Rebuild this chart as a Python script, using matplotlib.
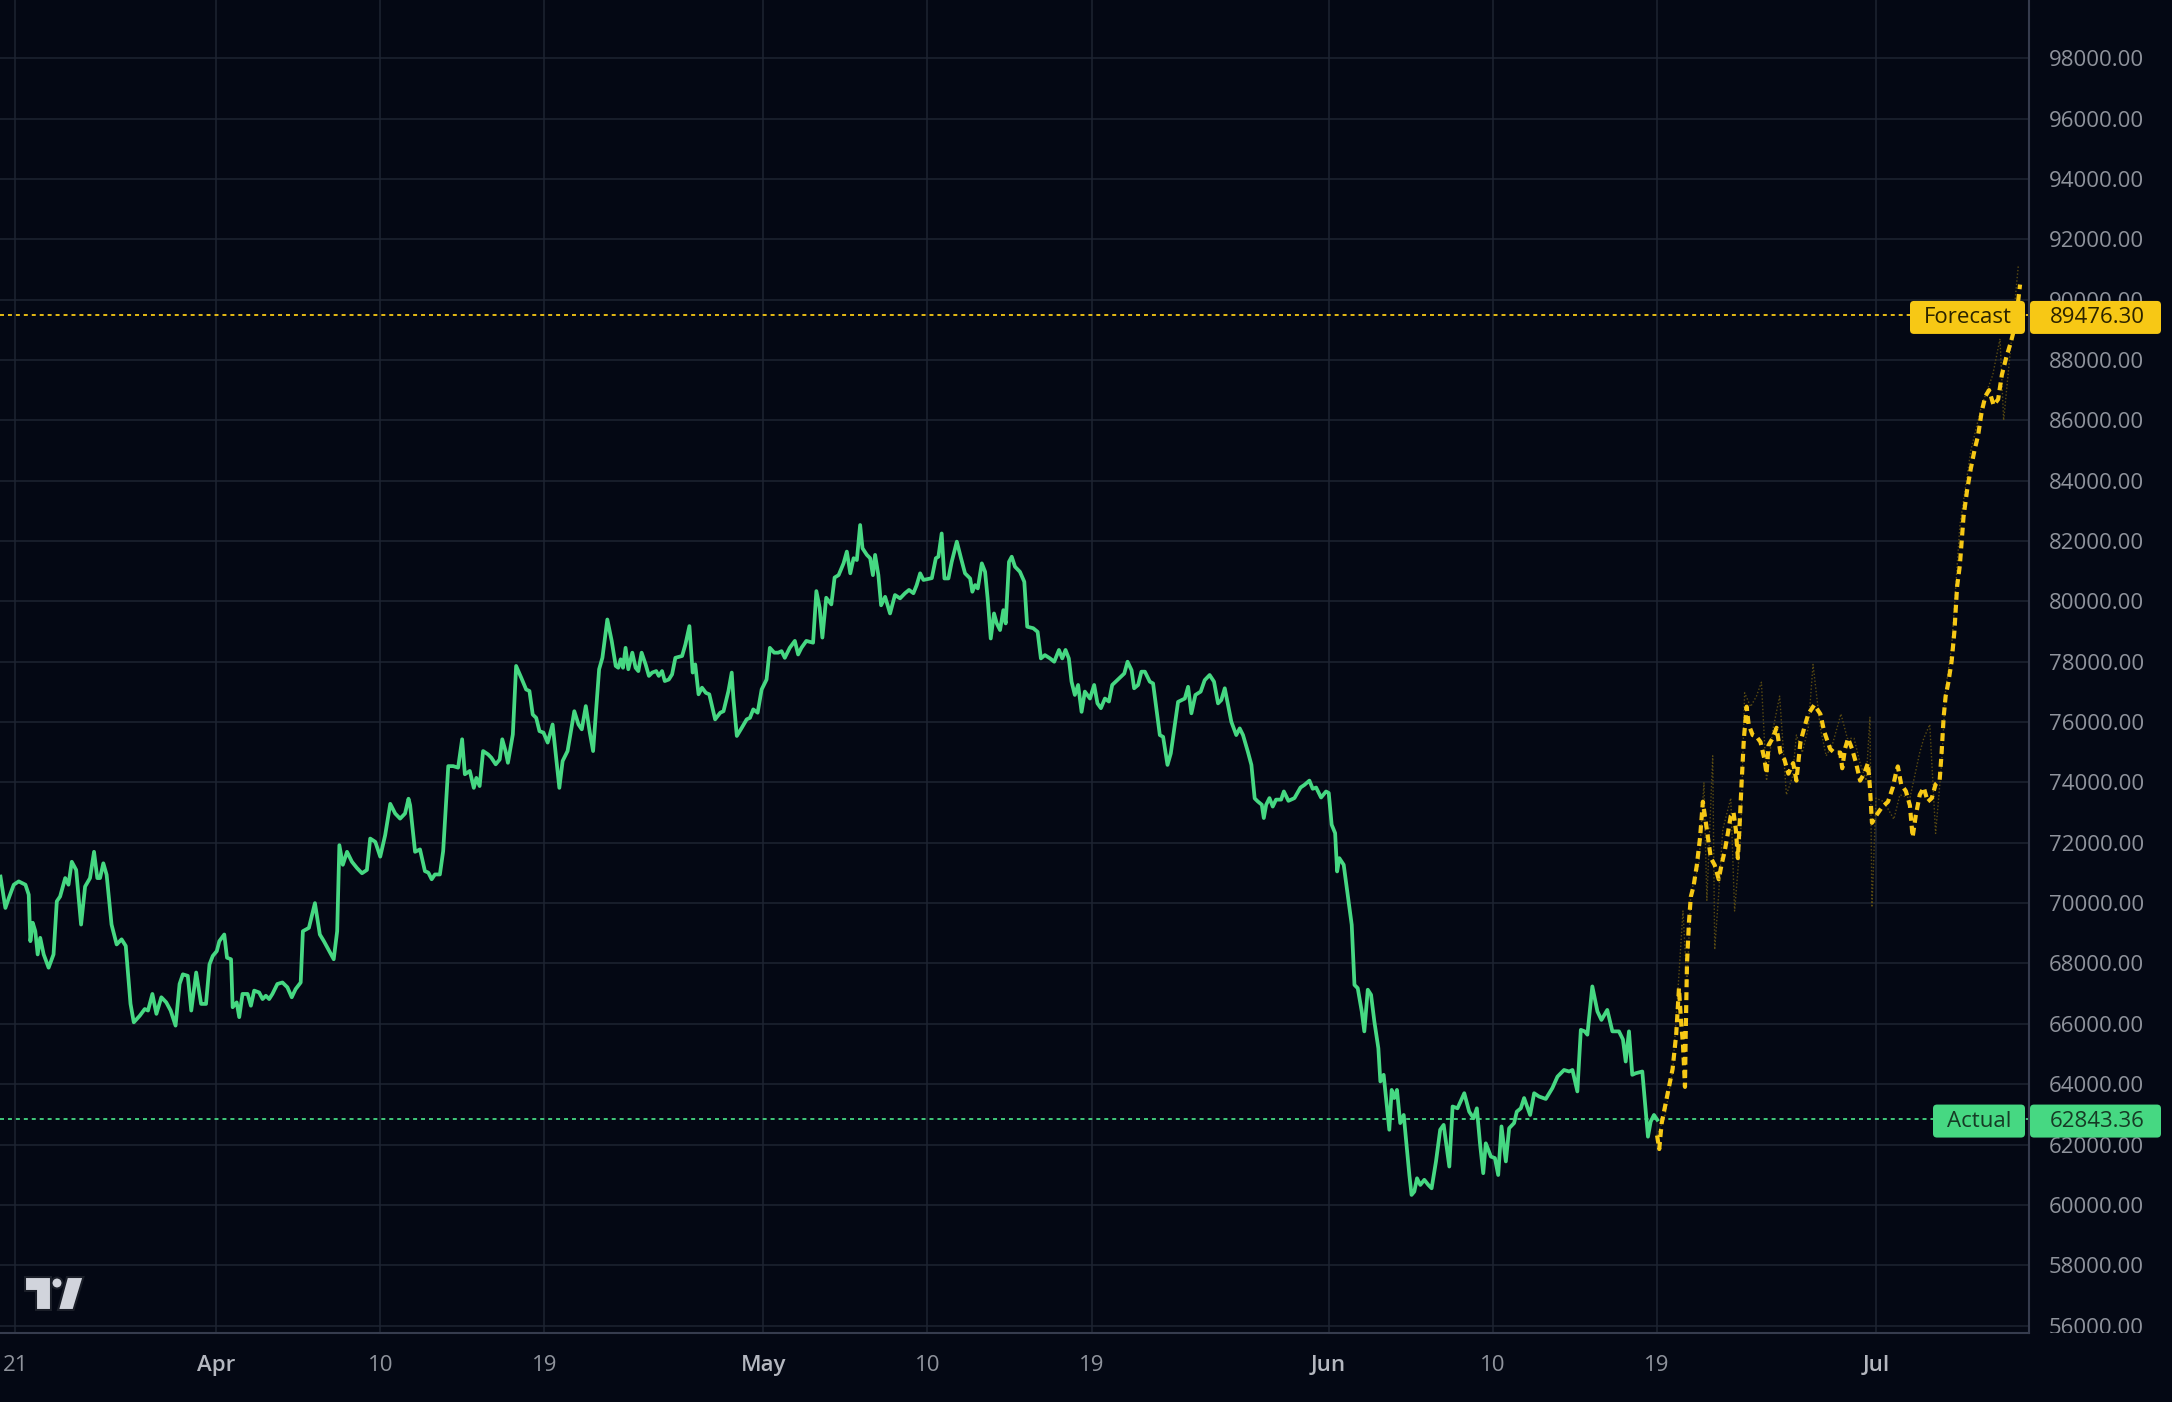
import numpy as np
import pandas as pd
import matplotlib
matplotlib.use("Agg")
import matplotlib.pyplot as plt
import matplotlib.dates as mdates
from matplotlib.patches import FancyBboxPatch, Polygon, Circle
from matplotlib.transforms import IdentityTransform, Bbox, TransformedBbox

plt.rcParams['font.family'] = ['Open Sans', 'DejaVu Sans']

# colours
bg_color = '#040814'
grid_color = '#1e2432'
spine_color = '#363c4e'
green = '#46d882'
yellow = '#f7c815'
faint_yellow = '#5a4b12'
label_gray = '#8f939c'

start = pd.Timestamp("2024-04-01")

# actual price (days after Apr 1, price)
actual_days = [
    -11.82, -11.55, -11.36, -11.09, -10.82, -10.45, -10.27, -10.18, -10.05, -9.91,
    -9.78, -9.64, -9.45, -9.18, -8.91, -8.73, -8.55, -8.27, -8.09, -7.91,
    -7.67, -7.40, -7.18, -6.91, -6.69, -6.51, -6.36, -6.18, -6.00, -5.73,
    -5.45, -5.18, -4.95, -4.69, -4.51, -4.18, -3.91, -3.73, -3.49, -3.27,
    -3.00, -2.73, -2.49, -2.22, -2.00, -1.82, -1.55, -1.36, -1.09, -0.82,
    -0.55, -0.36, -0.18, 0.04, 0.18, 0.45, 0.60, 0.82, 0.91, 1.13,
    1.27, 1.45, 1.73, 1.91, 2.09, 2.36, 2.55, 2.73, 2.91, 3.09,
    3.36, 3.64, 3.91, 4.15, 4.36, 4.64, 4.76, 5.09, 5.42, 5.69,
    5.91, 6.45, 6.64, 6.76, 6.95, 7.18, 7.45, 7.73, 8.00, 8.27,
    8.45, 8.73, 9.00, 9.27, 9.55, 9.82, 10.09, 10.36, 10.55, 10.64,
    10.91, 11.18, 11.45, 11.64, 11.82, 12.00, 12.27, 12.45, 12.73, 13.00,
    13.27, 13.49, 13.64, 13.91, 14.13, 14.27, 14.45, 14.64, 14.91, 15.09,
    15.33, 15.55, 15.69, 15.87, 16.00, 16.27, 16.45, 16.73, 17.00, 17.18,
    17.36, 17.55, 17.73, 17.95, 18.18, 18.45, 18.82, 19.00, 19.27, 19.64,
    19.87, 20.05, 20.27, 20.49, 20.67, 21.00, 21.18, 21.45, 21.69, 21.91,
    22.05, 22.18, 22.31, 22.45, 22.60, 22.82, 23.00, 23.15, 23.33, 23.55,
    23.73, 23.91, 24.13, 24.27, 24.45, 24.60, 24.82, 25.00, 25.18, 25.55,
    25.73, 25.95, 26.13, 26.27, 26.45, 26.64, 26.85, 27.04, 27.36, 27.64,
    27.82, 28.09, 28.27, 28.36, 28.55, 28.82, 29.09, 29.27, 29.45, 29.69,
    29.91, 30.18, 30.36, 30.60, 30.82, 31.00, 31.18, 31.45, 31.73, 31.91,
    32.09, 32.36, 32.73, 32.91, 33.09, 33.24, 33.45, 33.73, 33.91, 34.13,
    34.40, 34.58, 34.77, 34.95, 35.13, 35.31, 35.44, 35.68, 35.86, 36.01,
    36.13, 36.31, 36.46, 36.68, 36.95, 37.22, 37.50, 37.77, 37.99, 38.23,
    38.41, 38.60, 38.78, 39.24, 39.46, 39.60, 39.78, 39.93, 40.15, 40.33,
    40.61, 40.84, 41.06, 41.34, 41.46, 41.61, 41.76, 41.98, 42.16, 42.30,
    42.47, 42.65, 42.80, 42.98, 43.16, 43.29, 43.47, 43.62, 43.80, 44.07,
    44.31, 44.47, 44.80, 45.04, 45.22, 45.44, 45.72, 45.95, 46.21, 46.39,
    46.57, 46.75, 46.90, 47.08, 47.26, 47.45, 47.63, 47.91, 48.14, 48.32,
    48.51, 48.73, 48.95, 49.13, 49.55, 49.79, 49.97, 50.19, 50.33, 50.55,
    50.73, 50.92, 51.19, 51.37, 51.74, 51.92, 52.16, 52.34, 52.74, 53.11,
    53.29, 53.47, 53.69, 53.98, 54.20, 54.47, 54.71, 54.93, 55.11, 55.30,
    55.48, 55.66, 55.93, 56.12, 56.30, 56.57, 56.76, 56.94, 57.11, 57.33,
    57.44, 57.57, 57.75, 57.93, 58.11, 58.39, 58.54, 58.79, 59.12, 59.45,
    59.67, 59.94, 60.12, 60.31, 60.58, 60.85, 61.00, 61.16, 61.35, 61.46,
    61.58, 61.82, 62.04, 62.26, 62.41, 62.59, 62.81, 62.95, 63.14, 63.32,
    63.50, 63.72, 63.83, 64.01, 64.14, 64.32, 64.45, 64.59, 64.74, 64.92,
    65.11, 65.23, 65.42, 65.54, 65.69, 65.84, 66.02, 66.24, 66.46, 66.64,
    66.88, 67.11, 67.30, 67.61, 67.79, 68.06, 68.43, 68.70, 68.94, 69.12,
    69.30, 69.47, 69.61, 69.89, 70.11, 70.29, 70.47, 70.71, 70.89, 71.16,
    71.31, 71.53, 71.71, 72.04, 72.26, 72.53, 72.90, 73.26, 73.54, 73.90,
    74.18, 74.36, 74.63, 74.82, 75.03, 75.18, 75.45, 75.73, 75.95, 76.27,
    76.55, 76.91, 77.13, 77.28, 77.46, 77.64, 77.82, 78.19, 78.50, 78.65,
    78.83, 79.01,
]
actual_price = [
    70880, 69840, 70170, 70610, 70720, 70610, 70280, 68740, 69350, 69070,
    68300, 68850, 68300, 67860, 68300, 70060, 70220, 70830, 70610, 71370,
    71100, 69290, 70550, 70830, 71700, 70830, 70830, 71320, 70940, 69290,
    68630, 68800, 68580, 66660, 66050, 66270, 66490, 66440, 66990, 66330,
    66880, 66710, 66440, 65940, 67320, 67640, 67590, 66440, 67700, 66660,
    66660, 67970, 68250, 68410, 68740, 68960, 68190, 68140, 66550, 66710,
    66220, 66990, 66990, 66600, 67100, 67040, 66820, 66930, 66820, 66990,
    67320, 67370, 67210, 66880, 67150, 67370, 69070, 69180, 70000, 68960,
    68740, 68140, 69070, 71920, 71270, 71700, 71370, 71160, 70990, 71100,
    72140, 72030, 71540, 72250, 73290, 72970, 72800, 72970, 73460, 73240,
    71700, 71780, 71060, 71010, 70790, 70950, 70950, 71720, 74540, 74540,
    74490, 75430, 74270, 74380, 73820, 74150, 73880, 75040, 74930, 74820,
    74600, 74760, 75430, 75040, 74650, 75590, 77860, 77470, 77080, 77030,
    76250, 76140, 75700, 75650, 75320, 75920, 73820, 74710, 75040, 76360,
    75920, 75760, 76530, 75650, 75040, 77750, 78130, 79400, 78690, 77860,
    77800, 78080, 77800, 78460, 77750, 78300, 77800, 77690, 78300, 77910,
    77530, 77640, 77690, 77530, 77690, 77360, 77410, 77580, 78130, 78190,
    78570, 79180, 77640, 77910, 76920, 77140, 76970, 76920, 76090, 76310,
    76360, 77030, 77640, 76810, 75540, 75810, 76090, 76140, 76420, 76310,
    77080, 77410, 78460, 78300, 78300, 78350, 78130, 78460, 78690, 78240,
    78460, 78690, 78630, 80340, 79790, 78800, 80120, 79900, 80790, 80870,
    81260, 81650, 80930, 81430, 81370, 82530, 81760, 81540, 81430, 80870,
    81540, 80870, 79870, 80150, 79600, 80210, 80100, 80270, 80380, 80270,
    80540, 80930, 80710, 80770, 81430, 81480, 82250, 80760, 80760, 81310,
    81980, 81430, 80930, 80760, 80320, 80540, 80430, 81260, 80980, 80100,
    78770, 79600, 79270, 79050, 79710, 79270, 81310, 81480, 81150, 80980,
    80650, 79160, 79110, 78990, 78110, 78220, 78110, 78000, 78390, 78110,
    78390, 78110, 77340, 76900, 77230, 76340, 77010, 76780, 77230, 76620,
    76460, 76780, 76680, 77230, 77470, 77610, 78000, 77720, 77120, 77230,
    77670, 77670, 77340, 77280, 75570, 75510, 74580, 74960, 76670, 76780,
    77170, 76290, 76900, 77010, 77390, 77560, 77340, 76620, 76730, 77120,
    76560, 76010, 75570, 75790, 75570, 75010, 74580, 73470, 73370, 73260,
    72820, 73260, 73480, 73200, 73430, 73430, 73700, 73390, 73480, 73830,
    73920, 74060, 73790, 73830, 73500, 73700, 73650, 72600, 72320, 71050,
    71490, 71270, 70280, 69280, 67290, 67180, 66410, 65750, 67130, 66960,
    66080, 65190, 64090, 64310, 63540, 62490, 63810, 63540, 63810, 62710,
    62980, 62210, 60990, 60330, 60440, 60880, 60660, 60830, 60660, 60550,
    61440, 62490, 62650, 61270, 63260, 63200, 63700, 63090, 62870, 63200,
    61990, 61050, 62040, 61600, 61550, 60990, 62600, 61440, 62540, 62710,
    63090, 63200, 63540, 62980, 63700, 63590, 63510, 63870, 64250, 64470,
    64420, 64470, 63760, 65800, 65750, 65640, 67240, 66410, 66130, 66460,
    65750, 65750, 65480, 64750, 65750, 64310, 64360, 64420, 62260, 62760,
    62980, 62820,
]

# forecast (thick dotted yellow)
forecast_days = [
    79.00, 79.12, 79.25, 79.45, 79.65, 79.85, 80.05, 80.20, 80.31, 80.42,
    80.53, 80.57, 80.64, 80.75, 80.85, 81.00, 81.18, 81.36, 81.51, 81.73,
    81.95, 82.16, 82.38, 82.53, 82.71, 82.88, 83.04, 83.19, 83.32, 83.43,
    83.54, 83.63, 83.76, 83.91, 84.02, 84.24, 84.45, 84.67, 84.89, 85.00,
    85.11, 85.33, 85.55, 85.76, 85.98, 86.20, 86.46, 86.64, 86.86, 87.07,
    87.29, 87.62, 87.95, 88.16, 88.49, 88.71, 89.04, 89.15, 89.30, 89.47,
    89.69, 89.91, 90.13, 90.35, 90.56, 90.67, 90.78, 91.00, 91.33, 91.66,
    91.92, 92.09, 92.20, 92.38, 92.64, 92.86, 93.01, 93.18, 93.40, 93.62,
    93.84, 94.06, 94.27, 94.49, 94.60, 94.71, 94.82, 94.97, 95.15, 95.30,
    95.45, 95.60, 95.80, 96.00, 96.20, 96.40, 96.60, 96.80, 97.00, 97.20,
    97.45, 97.70, 97.90, 98.15, 98.40, 98.65, 98.90,
]
forecast_price = [
    62300, 61850, 62700, 63300, 63900, 64500, 65660, 67180, 66130, 65310,
    63910, 65660, 68000, 69390, 70210, 70560, 71260, 72190, 73360, 72430,
    71490, 71260, 70790, 71260, 71730, 72310, 72890, 73010, 72430, 71490,
    72780, 73940, 75460, 76510, 75920, 75570, 75520, 75340, 74760, 74290,
    75230, 75460, 75810, 74990, 74760, 74290, 74640, 74060, 75340, 75810,
    76270, 76570, 76270, 75690, 75110, 74990, 74990, 74470, 75110, 75460,
    75110, 74640, 74060, 74290, 74640, 73830, 72660, 72890, 73180, 73360,
    73830, 74290, 74530, 73940, 73710, 73240, 72190, 72890, 73590, 73830,
    73360, 73480, 73940, 74060, 74990, 76160, 76860, 77320, 78020, 79000,
    80500, 81200, 82800, 83700, 84400, 85000, 85500, 86300, 86800, 87000,
    86500, 86700, 87500, 88100, 88600, 89200, 90500,
]

# faint secondary forecast path
band_days = [
    79.00, 79.44, 79.87, 80.42, 80.64, 80.85, 81.29, 81.57, 81.73, 82.05,
    82.16, 82.38, 82.60, 83.04, 83.25, 83.58, 83.80, 84.13, 84.45, 84.72,
    85.00, 85.33, 85.72, 86.09, 86.42, 86.64, 86.96, 87.29, 87.55, 87.95,
    88.27, 88.60, 89.08, 89.43, 89.80, 90.13, 90.46, 90.67, 90.78, 91.00,
    91.44, 91.98, 92.31, 92.86, 93.40, 93.62, 93.95, 94.27, 94.60, 94.82,
    95.15, 95.60, 96.20, 96.80, 97.40, 97.80, 98.00, 98.40, 98.80,
]
band_price = [
    62300, 62980, 64500, 69740, 67290, 70330, 71260, 74000, 70090, 74880,
    68460, 70330, 72430, 73480, 69740, 72190, 76970, 76510, 76860, 77320,
    74060, 75690, 76860, 73590, 74180, 75570, 74990, 75810, 77910, 75810,
    74880, 75230, 76270, 75460, 75460, 74640, 74060, 76160, 69860, 73480,
    73360, 72780, 73590, 73480, 74990, 75460, 75920, 72310, 74640, 77090,
    78490, 82500, 85000, 86500, 87500, 88700, 86000, 88500, 91100,
]

forecast_last = 89476.30
actual_last = 62843.36

tick_days = [-11, 0, 9, 18, 30, 39, 48, 61, 70, 79, 91]
tick_labels = ["21", "Apr", "10", "19", "May", "10", "19", "Jun", "10", "19", "Jul"]
month_labels = ["Apr", "May", "Jun", "Jul"]
price_ticks = np.arange(56000, 98001, 2000)


def to_time(days):
    return start + pd.to_timedelta(np.array(days), unit="D")


W, H = 2172, 1402
fig = plt.figure(figsize=(W / 100, H / 100), dpi=100, facecolor=bg_color)
ax_bottom = 69.5 / H
ax_right = 2029 / W
ax = fig.add_axes([0, ax_bottom, ax_right, 1 - ax_bottom])
ax.set_facecolor(bg_color)

ax.plot(to_time(band_days), band_price, color=faint_yellow, lw=1.0,
        linestyle=(0, (1, 1.5)), zorder=2)
ax.plot(to_time(actual_days), actual_price, color=green, lw=2.7,
        solid_joinstyle='round', zorder=3)
ax.plot(to_time(forecast_days), forecast_price, color=yellow, lw=3.0,
        linestyle=(0, (1.9, 1.2)), zorder=4)

ax.axhline(forecast_last, color=yellow, lw=1.3, linestyle=(0, (2.2, 2.2)), zorder=2.5)
ax.axhline(actual_last, color=green, lw=1.3, linestyle=(0, (2.2, 2.2)), zorder=2.5)

ax.set_xlim(start + pd.Timedelta(days=-11.845), start + pd.Timedelta(days=99.39))
ax.set_ylim(55770, 99930)

ax.set_xticks(to_time(tick_days))
ax.set_xticklabels(tick_labels)
ax.set_yticks(price_ticks)
ax.set_yticklabels([f"{p:.2f}" for p in price_ticks])
ax.yaxis.tick_right()

ax.grid(True, color=grid_color, lw=1.1)
ax.set_axisbelow(True)

ax.tick_params(axis='x', length=0, pad=16, labelsize=16, colors=label_gray)
ax.tick_params(axis='y', length=0, pad=14.4, labelsize=16, colors=label_gray)
for lbl in ax.get_xticklabels():
    if lbl.get_text() in month_labels:
        lbl.set_fontweight('semibold')
        lbl.set_color('#b4b7bf')

for s in ['top', 'left']:
    ax.spines[s].set_visible(False)
for s in ['right', 'bottom']:
    ax.spines[s].set_color(spine_color)
    ax.spines[s].set_linewidth(1.5)

# keep the price labels inside the chart height
clip = TransformedBbox(Bbox.from_extents(0, 69.5, W, H), IdentityTransform())
for t in ax.yaxis.get_major_ticks():
    t.label2.set_clip_box(clip)
    t.label2.set_clip_on(True)

# price tags on the scale
px = IdentityTransform()
x_ref = mdates.date2num(start)


def price_tag(value, name, color, text_color, left):
    yp = ax.transData.transform((x_ref, value))[1] - 2
    h = 33
    name_box = FancyBboxPatch((left, yp - h / 2), 2025 - left, h,
                              boxstyle="round,pad=0,rounding_size=4",
                              transform=px, fc=color, ec='none', zorder=5)
    val_box = FancyBboxPatch((2030, yp - h / 2), 131, h,
                             boxstyle="round,pad=0,rounding_size=4",
                             transform=px, fc=color, ec='none', zorder=5)
    fig.add_artist(name_box)
    fig.add_artist(val_box)
    fig.text((left + 2025) / 2, yp, name, transform=px, ha='center', va='center',
             fontsize=16, color=text_color, zorder=6)
    fig.text(2097, yp, f"{value:.2f}", transform=px, ha='center', va='center',
             fontsize=16, color=text_color, zorder=6)


price_tag(forecast_last, "Forecast", yellow, '#2b2300', 1910)
price_tag(actual_last, "Actual", green, '#163a25', 1933)

# tradingview logo
logo_color = '#d1d4dc'
fig.add_artist(Polygon([(24.5, 125), (51, 125), (51, 92), (36, 92), (36, 111), (24.5, 111)],
                       closed=True, transform=px, fc=logo_color, ec='#1a1e28', lw=1.5, zorder=5))
fig.add_artist(Circle((57, 119), 5.5, transform=px, fc=logo_color, ec='#1a1e28', lw=1.5, zorder=5))
fig.add_artist(Polygon([(67, 125), (83.5, 125), (73.5, 92), (58, 92)],
                       closed=True, transform=px, fc=logo_color, ec='#1a1e28', lw=1.5, zorder=5))

fig.savefig("out.png", dpi=100, facecolor=bg_color)
